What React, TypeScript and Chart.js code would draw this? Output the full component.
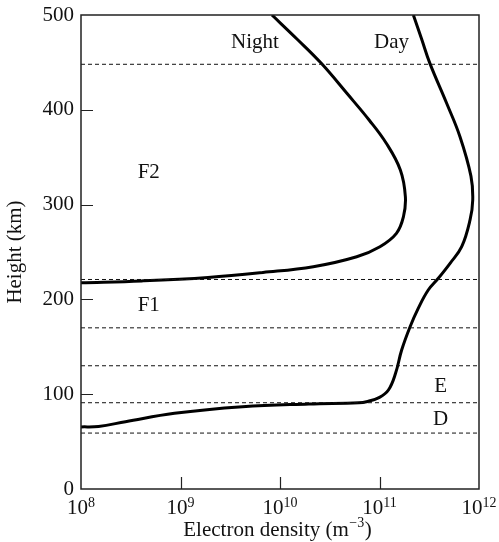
import React, { useEffect, useRef } from "react";
import { Chart, registerables } from "chart.js";

Chart.register(...registerables);

// Night profile: electron density (m^-3) and height (km)
const nightDensity = [1e8, 4.1e8, 1.89e9, 6.75e9, 2.16e10, 5.9e10, 1.01e11, 1.48e11, 1.74e11, 1.82e11, 1.62e11, 1.17e11, 7.9e10, 4.7e10, 2.6e10, 1.48e10, 8.3e9];
const nightHeight = [217.5, 219.5, 223.2, 228.4, 234.5, 245, 255.6, 269.7, 287.2, 308.3, 336.5, 364.7, 389, 417.4, 449, 474.7, 500];

// Day profile
const dayDensity = [1e8, 1.5e8, 2.8e8, 8.7e8, 4.2e9, 1.95e10, 6.2e10, 7.4e10, 1e11, 1.23e11, 1.45e11, 1.67e11, 2.03e11, 2.45e11, 3.09e11, 3.9e11, 5.12e11, 6.7e11, 8.13e11, 8.65e11, 8.3e11, 6.44e11, 4.73e11, 3.21e11, 2.65e11, 2.19e11];
const dayHeight = [65.5, 66, 71, 79.9, 86.8, 89.7, 91, 92.1, 96.7, 104.4, 122, 146.6, 171.2, 190.6, 209.9, 222.3, 238.1, 255.6, 283.8, 304.9, 330, 371.6, 406.9, 449, 474.7, 500];

// Layer boundaries (km)
const boundaryHeights = [448, 221, 170, 130, 91, 59];

// Axis ticks
const xTickValues = [1e8, 1e9, 1e10, 1e11, 1e12];
const xInnerTicks = [1e9, 1e10, 1e11];
const yInnerTicks = [100, 200, 300, 400];

// Text labels
const labelTexts = ["Night", "Day", "F2", "F1", "E", "D"];
const labelDensity = [5.6e9, 1.32e11, 4.8e8, 4.8e8, 4.12e11, 4.12e11];
const labelHeight = [471, 471, 333.4, 193.9, 108.4, 73.2];

const xTitleMain = "Electron density (m";
const xTitleSup = "−3";
const xTitleEnd = ")";

const SERIF = "'Liberation Serif', 'Times New Roman', serif";
const INK = "#111";

const boxPlugin = {
  id: "boxAndLabels",
  afterDraw(chart: any) {
    const { ctx, chartArea, scales } = chart;
    const xs = scales.x;
    const ys = scales.y;
    ctx.save();
    // frame
    ctx.strokeStyle = "#222";
    ctx.lineWidth = 1.5;
    ctx.strokeRect(chartArea.left, chartArea.top, chartArea.right - chartArea.left, chartArea.bottom - chartArea.top);
    // inner ticks
    ctx.lineWidth = 1.2;
    ctx.beginPath();
    xInnerTicks.forEach((v) => {
      const px = Math.round(xs.getPixelForValue(v)) + 0.5;
      ctx.moveTo(px, chartArea.bottom);
      ctx.lineTo(px, chartArea.bottom - 12);
    });
    yInnerTicks.forEach((v) => {
      const py = Math.round(ys.getPixelForValue(v)) + 0.5;
      ctx.moveTo(chartArea.left, py);
      ctx.lineTo(chartArea.left + 12, py);
    });
    ctx.stroke();

    ctx.fillStyle = INK;
    ctx.textBaseline = "alphabetic";
    // x tick labels with superscript exponents
    const base = chartArea.bottom + 25;
    xs.ticks.forEach((t: any) => {
      const e = String(Math.round(Math.log10(t.value)));
      ctx.font = "21px " + SERIF;
      const w1 = ctx.measureText("10").width;
      ctx.font = "14px " + SERIF;
      const w2 = ctx.measureText(e).width;
      const cx = xs.getPixelForValue(t.value);
      const x0 = cx - (w1 + w2) / 2;
      ctx.textAlign = "left";
      ctx.font = "21px " + SERIF;
      ctx.fillText("10", x0, base);
      ctx.font = "14px " + SERIF;
      ctx.fillText(e, x0 + w1, base - 7.5);
    });

    // x title
    ctx.font = "21px " + SERIF;
    const a = ctx.measureText(xTitleMain).width;
    const c = ctx.measureText(xTitleEnd).width;
    ctx.font = "14px " + SERIF;
    const b = ctx.measureText(xTitleSup).width;
    const tcx = (chartArea.left + chartArea.right) / 2 - 3;
    const tx = tcx - (a + b + c) / 2;
    const tb = chartArea.bottom + 47;
    ctx.textAlign = "left";
    ctx.font = "21px " + SERIF;
    ctx.fillText(xTitleMain, tx, tb);
    ctx.fillText(xTitleEnd, tx + a + b + 1, tb);
    ctx.font = "14px " + SERIF;
    ctx.fillText(xTitleSup, tx + a + 0.5, tb - 9);

    // annotations
    ctx.font = "21px " + SERIF;
    ctx.textAlign = "center";
    ctx.textBaseline = "middle";
    labelTexts.forEach((t, i) => {
      ctx.fillText(t, xs.getPixelForValue(labelDensity[i]), ys.getPixelForValue(labelHeight[i]));
    });
    ctx.restore();
  },
};

export default function App() {
  const ref = useRef<HTMLCanvasElement>(null);
  useEffect(() => {
    if (!ref.current) return;
    const toPts = (xs: number[], ys: number[]) => xs.map((x, i) => ({ x, y: ys[i] }));
    const dashed = boundaryHeights.map((h) => ({
      data: [{ x: 1e8, y: h }, { x: 1e12, y: h }],
      borderColor: INK,
      borderWidth: 1,
      borderDash: [4, 3],
      pointRadius: 0,
      showLine: true,
      tension: 0,
    }));
    const chart = new Chart(ref.current, {
      type: "scatter",
      data: {
        datasets: [
          ...dashed,
          {
            label: "Night",
            data: toPts(nightDensity, nightHeight),
            borderColor: "#000",
            borderWidth: 3,
            pointRadius: 0,
            showLine: true,
            tension: 0.4,
          },
          {
            label: "Day",
            data: toPts(dayDensity, dayHeight),
            borderColor: "#000",
            borderWidth: 3,
            pointRadius: 0,
            showLine: true,
            tension: 0.4,
          },
        ],
      },
      options: {
        responsive: false,
        animation: false,
        layout: { padding: { left: 0, right: 20, top: 15, bottom: 0 } },
        plugins: { legend: { display: false }, tooltip: { enabled: false } },
        scales: {
          x: {
            type: "logarithmic",
            min: 1e8,
            max: 1e12,
            grid: { display: false, drawTicks: false },
            border: { display: false },
            afterBuildTicks: (s: any) => {
              s.ticks = xTickValues.map((v) => ({ value: v }));
            },
            afterFit: (s: any) => {
              s.height = 53;
              s.paddingLeft = 0;
              s.paddingRight = 0;
              s.paddingTop = 0;
              s.paddingBottom = 0;
            },
            ticks: { display: false },
          },
          y: {
            min: 0,
            max: 500,
            grid: { display: false, drawTicks: false },
            border: { display: false },
            afterFit: (s: any) => {
              s.width = 81;
              s.paddingLeft = 0;
              s.paddingRight = 0;
              s.paddingTop = 0;
              s.paddingBottom = 0;
            },
            ticks: {
              stepSize: 100,
              color: INK,
              padding: 7,
              font: { family: SERIF, size: 21 },
            },
            title: {
              display: true,
              text: "Height (km)",
              color: INK,
              font: { family: SERIF, size: 21, lineHeight: 1.2 },
              padding: { top: 3, bottom: 0 },
            },
          },
        },
      },
      plugins: [boxPlugin],
    });
    return () => chart.destroy();
  }, []);
  return (
    <div style={{ position: "absolute", left: 0, top: 0, width: 499, height: 542 }}>
      <canvas ref={ref} width={499} height={542} style={{ display: "block" }} />
    </div>
  );
}
